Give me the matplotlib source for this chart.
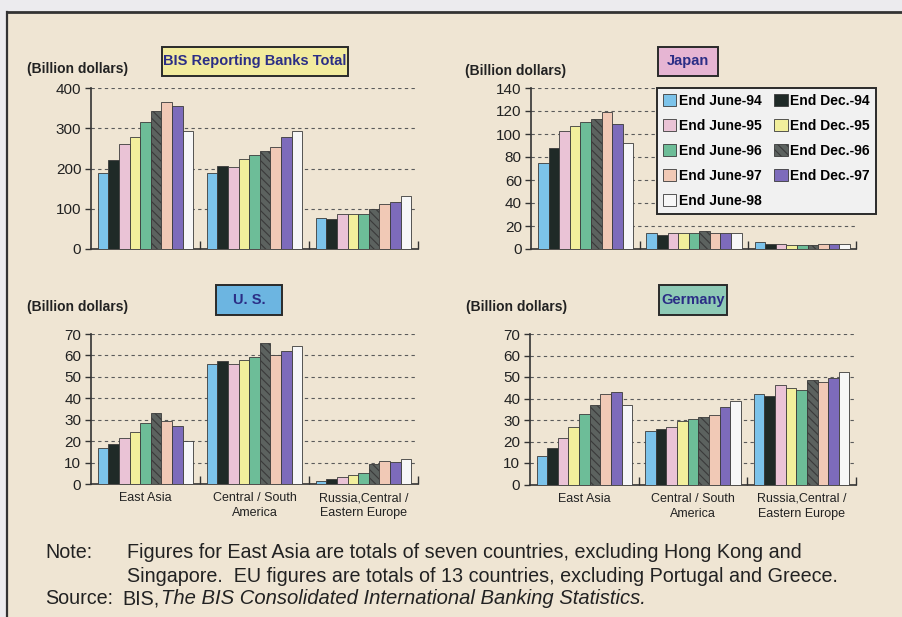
import matplotlib
matplotlib.use("Agg")
import matplotlib.pyplot as plt
from matplotlib.patches import Rectangle, Patch
from matplotlib.lines import Line2D

# ---- data (billion dollars) ----
categories = ["East Asia", "Central / South\nAmerica", "Russia,Central /\nEastern Europe"]
periods = ["End June-94", "End Dec.-94", "End June-95", "End Dec.-95", "End June-96",
           "End Dec.-96", "End June-97", "End Dec.-97", "End June-98"]

bis_total = [
    [189, 221, 261, 278, 315, 342, 365, 355, 292],
    [189, 207, 203, 223, 234, 243, 253, 278, 292],
    [76, 74, 86, 86, 87, 99, 113, 118, 131],
]
japan = [
    [75, 88, 102.5, 107, 110.5, 113, 119.5, 108.5, 92.6],
    [13.6, 12, 13.6, 13.6, 13.6, 15.6, 13.6, 13.6, 13.6],
    [6, 4.3, 4.3, 3.8, 3.2, 3.8, 4.3, 4.3, 4.3],
]
us = [
    [16.7, 18.6, 21.4, 24.5, 28.5, 33, 29.3, 27.1, 20.3],
    [56, 57.6, 55.8, 57.8, 59.5, 65.8, 60.2, 62, 64.2],
    [1.4, 2.3, 3.3, 4.1, 5, 9.4, 10.9, 10.3, 11.7],
]
germany = [
    [13.4, 16.8, 21.8, 26.9, 32.8, 37.1, 42.1, 43, 36.9],
    [25.1, 25.9, 26.9, 29.5, 30.3, 31.2, 32.1, 36.2, 38.8],
    [42.1, 41.1, 46.3, 44.9, 43.8, 48.7, 47.6, 49.5, 52.3],
]

colors = ["#7cc3ea", "#1f2a27", "#eac3d6", "#f2ef9c", "#6dbd98",
          "#5c625f", "#f1c9b6", "#7d6bbb", "#f7f7f7"]
hatches = [None, None, None, None, None, "\\\\\\\\", None, None, None]

BG = "#efe5d3"
NAVY = "#2b2e86"
FONT = ["Liberation Sans", "DejaVu Sans"]

plt.rcParams["font.family"] = FONT
plt.rcParams["hatch.color"] = "#9a9f9c"
plt.rcParams["hatch.linewidth"] = 0.8

W, H = 903, 617
fig = plt.figure(figsize=(W / 100, H / 100), dpi=100)
fig.patch.set_facecolor("#ecebee")


def px(x0, y0, x1, y1):
    """pixel box (top-left origin) -> figure-fraction rect"""
    return [x0 / W, 1 - y1 / H, (x1 - x0) / W, (y1 - y0) / H]


# beige panel with dark frame on top and left
fig.add_artist(Rectangle((7 / W, 0), 1 - 7 / W, 1 - 12 / H, transform=fig.transFigure,
                         facecolor=BG, edgecolor="none", zorder=0))
fig.add_artist(Line2D([7 / W, 7 / W], [0, 1 - 12 / H], transform=fig.transFigure,
                      color="#333333", lw=1.6, zorder=1))
fig.add_artist(Line2D([7 / W, 1], [1 - 12 / H, 1 - 12 / H], transform=fig.transFigure,
                      color="#333333", lw=2.0, zorder=1))


def panel(rect, data, ymax, ystep, show_cats):
    ax = fig.add_axes(rect)
    ax.set_facecolor("none")
    n = len(periods)
    group = 0.88
    bw = group / n
    for c, vals in enumerate(data):
        for i, v in enumerate(vals):
            x = c + 0.5 - group / 2 + bw * (i + 0.5)
            ax.bar(x, v, width=bw, color=colors[i], edgecolor="#3a3a3a",
                   linewidth=0.6, hatch=hatches[i], zorder=3)
    ax.set_xlim(0, 3)
    ax.set_ylim(0, ymax)
    yt = list(range(0, ymax + 1, ystep))
    ax.set_yticks(yt)
    ax.set_yticklabels([str(t) for t in yt], fontsize=11, color="#222222")
    for t in yt[1:]:
        ax.axhline(t, color="#5a5a5a", lw=0.8, ls=(0, (3, 3)), zorder=1)
    ax.set_xticks([0.5, 1.5, 2.5])
    if show_cats:
        ax.set_xticklabels(categories, fontsize=9, color="#222222", linespacing=1.3)
    else:
        ax.set_xticklabels([])
    ax.tick_params(axis="x", which="major", length=0, pad=6)
    ax.set_xticks([1, 2, 3], minor=True)
    ax.tick_params(axis="x", which="minor", direction="in", length=6,
                   width=1.0, color="#333333")
    ax.tick_params(axis="y", direction="out", length=4, width=1.0,
                   color="#333333", pad=3)
    for s in ("top", "right"):
        ax.spines[s].set_visible(False)
    for s in ("left", "bottom"):
        ax.spines[s].set_color("#333333")
        ax.spines[s].set_linewidth(1.2)
    return ax


ax1 = panel(px(91, 88, 418, 249), bis_total, 400, 100, False)
ax2 = panel(px(531.5, 88, 856.5, 249), japan, 140, 20, False)
ax3 = panel(px(91, 334, 418, 484), us, 70, 10, True)
ax4 = panel(px(530, 334, 856, 484.5), germany, 70, 10, True)

for (x, y) in [(27, 69), (465, 71), (27, 307), (466, 307)]:
    fig.text(x / W, 1 - y / H, "(Billion dollars)", fontsize=10, fontweight="bold",
             color="#222222", va="center", ha="left")


def title_box(x0, y0, x1, y1, text, fill):
    r = px(x0, y0, x1, y1)
    fig.add_artist(Rectangle((r[0], r[1]), r[2], r[3], transform=fig.transFigure,
                             facecolor=fill, edgecolor="#2a2a2a", lw=1.4, zorder=5))
    fig.text(r[0] + r[2] / 2, r[1] + r[3] / 2, text, ha="center", va="center",
             fontsize=10.5, fontweight="bold", color=NAVY, zorder=6)


title_box(162, 47, 348, 76, "BIS Reporting Banks Total", "#f2eb9e")
title_box(658, 47, 718, 76, "Japan", "#e6b5d3")
title_box(216, 285, 282, 315, "U. S.", "#6cb5e1")
title_box(659, 285, 727, 315, "Germany", "#8ecab6")

# legend, filled column by column
handles = [Patch(facecolor=colors[i], edgecolor="#3a3a3a", linewidth=0.6,
                 hatch=hatches[i]) for i in range(len(periods))]
order = [0, 2, 4, 6, 8, 1, 3, 5, 7]
lr = px(657, 88, 878, 213)
leg = fig.legend([handles[i] for i in order], [periods[i] for i in order],
                 ncol=2, loc="upper left", bbox_to_anchor=(lr[0], lr[1] + lr[3]),
                 frameon=True, prop={"weight": "bold", "size": 10},
                 handlelength=0.95, handleheight=0.95, handletextpad=0.2,
                 columnspacing=0.9, labelspacing=0.78, borderpad=0.45,
                 fancybox=False, borderaxespad=0)
leg.get_frame().set_facecolor("#f1f1f1")
leg.get_frame().set_edgecolor("#2a2a2a")
leg.get_frame().set_linewidth(1.4)
leg.get_frame().set_alpha(1)
leg.set_zorder(7)

# notes
note_kw = dict(color="#222222", va="center", ha="left")
fig.text(45 / W, 1 - 553 / H, "Note:", fontsize=14.2, **note_kw)
fig.text(127 / W, 1 - 553 / H,
         "Figures for East Asia are totals of seven countries, excluding Hong Kong and",
         fontsize=14.2, **note_kw)
fig.text(127 / W, 1 - 576 / H,
         "Singapore.  EU figures are totals of 13 countries, excluding Portugal and Greece.",
         fontsize=14.2, **note_kw)
fig.text(45 / W, 1 - 599 / H, "Source:", fontsize=14.2, **note_kw)
fig.text(122 / W, 1 - 599 / H, "BIS,", fontsize=14.2, **note_kw)
fig.text(161 / W, 1 - 599 / H, "The BIS Consolidated International Banking Statistics.",
         style="italic", fontsize=14.6, **note_kw)

fig.savefig("out.png", dpi=100, facecolor=fig.get_facecolor())
